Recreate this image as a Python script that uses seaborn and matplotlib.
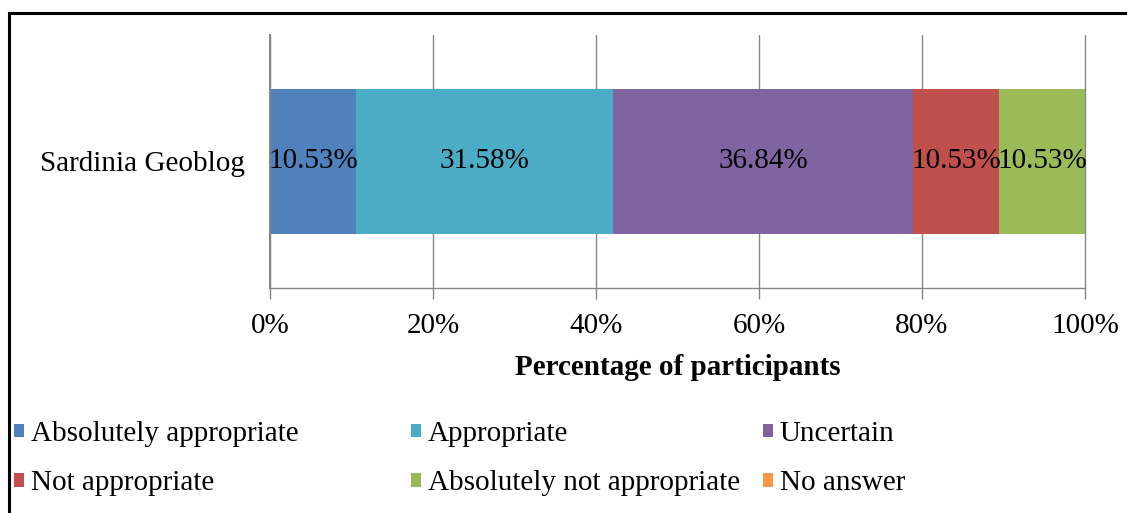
import matplotlib
matplotlib.use("Agg")
import matplotlib.pyplot as plt
from matplotlib.patches import Rectangle, Patch
import numpy as np
import pandas as pd
import seaborn as sns

# ---- data ----
category = ["Sardinia Geoblog"]
series = ["Absolutely appropriate", "Appropriate", "Uncertain",
          "Not appropriate", "Absolutely not appropriate", "No answer"]
values = [10.53, 31.58, 36.84, 10.53, 10.53, 0.0]
colors = ["#4F81BD", "#4BACC6", "#8064A2", "#C0504D", "#9BBB59", "#F79646"]
xticks = [0, 20, 40, 60, 80, 100]
xtick_labels = ["0%", "20%", "40%", "60%", "80%", "100%"]
xlabel = "Percentage of participants"

sns.set_theme(style="white")
plt.rcParams["font.family"] = ["Liberation Serif", "DejaVu Serif"]
plt.rcParams["text.color"] = "black"
plt.rcParams["axes.labelcolor"] = "black"
plt.rcParams["xtick.color"] = "black"
plt.rcParams["ytick.color"] = "black"

FS = 21
W, H = 1127, 513
fig = plt.figure(figsize=(W / 100, H / 100), dpi=100)
ax = fig.add_axes([270 / W, 1 - 288 / H, (1085 - 270) / W, (288 - 35) / H])

cum = np.cumsum(values)
# draw cumulative bars from last to first so each stack segment shows
for i in range(len(series) - 1, -1, -1):
    df = pd.DataFrame({"cat": category, "val": [cum[i]]})
    sns.barplot(data=df, x="val", y="cat", orient="h", color=colors[i],
                saturation=1, width=0.573, ax=ax, zorder=3, edgecolor="none",
                linewidth=0)

# value labels
for i, v in enumerate(values):
    if v > 0:
        ax.text(cum[i] - v / 2, 0, f"{v:.2f}%", ha="center", va="center",
                fontsize=FS, color="black", zorder=5)

ax.set_xlim(0, 100)
ax.set_ylim(0.5, -0.5)
ax.set_xticks(xticks)
ax.set_xticklabels(xtick_labels, fontsize=FS)
ax.set_ylabel("")
ax.set_xlabel(xlabel, fontsize=FS, fontweight="bold", labelpad=11)
ax.tick_params(axis="y", labelsize=FS, length=0, pad=18)
ax.tick_params(axis="x", length=8, width=1, color="#868686", pad=10,
               labelcolor="black", direction="out", bottom=True)
for lbl in ax.get_yticklabels():
    lbl.set_fontsize(FS)
    lbl.set_color("black")

ax.grid(axis="x", color="#868686", linewidth=1, zorder=0)
for gl in ax.get_xgridlines():
    gl.set_clip_on(False)
ax.set_axisbelow(True)
for s in ["top", "right"]:
    ax.spines[s].set_visible(False)
ax.spines["left"].set_color("#868686")
ax.spines["left"].set_linewidth(1.5)
ax.spines["bottom"].set_color("#868686")
ax.spines["bottom"].set_linewidth(1)
ax.spines["left"].set_zorder(4)

# legends: three columns placed individually
col_x = [14 / W, 411 / W, 763 / W]
for c in range(3):
    idx = [c, c + 3]
    handles = [Patch(facecolor=colors[k], edgecolor="none") for k in idx]
    labels = [series[k] for k in idx]
    fig.legend(handles, labels, loc="upper left",
               bbox_to_anchor=(col_x[c], 1 - 421 / H), frameon=False,
               fontsize=FS, handlelength=0.33, handleheight=0.33,
               handletextpad=0.25, labelspacing=0.8, borderpad=0,
               borderaxespad=0)

# outer border
fig.patches.append(Rectangle((9 / W, -0.05), 1.2, 1 - 13 / H + 0.05,
                             transform=fig.transFigure, fill=False,
                             edgecolor="black", linewidth=2.2, zorder=10))

fig.savefig("out.png", dpi=100)
